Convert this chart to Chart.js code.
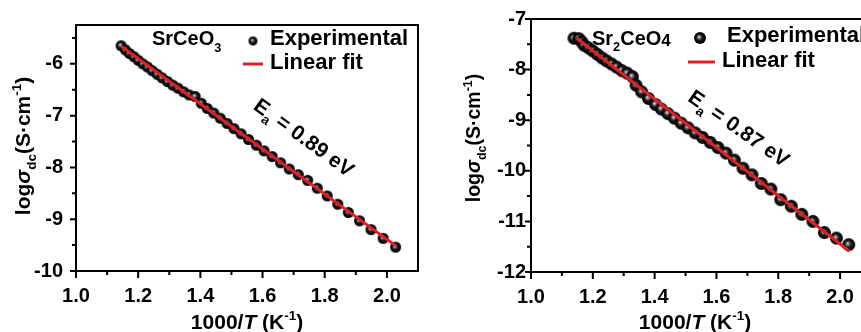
<!DOCTYPE html>
<html><head><meta charset="utf-8">
<script src="https://cdn.jsdelivr.net/npm/chart.js@4"></script>
<style>
html,body{margin:0;padding:0;background:#fff;width:861px;height:332px;overflow:hidden}
#p1{position:absolute;left:0;top:0;width:430px;height:332px}
#p2{position:absolute;left:430px;top:0;width:431px;height:332px;overflow:hidden}
canvas{display:block}
</style></head><body>
<div id="p1"><canvas id="c1" width="430" height="332"></canvas></div>
<div id="p2"><canvas id="c2" width="460" height="332"></canvas></div>
<script>
// ---------- data ----------
const xTicks = [1.0, 1.2, 1.4, 1.6, 1.8, 2.0];
const xMinor = [1.1, 1.3, 1.5, 1.7, 1.9];
const yTicks1 = [-10, -9, -8, -7, -6];
const yMinor1 = [-9.5, -8.5, -7.5, -6.5, -5.5];
const yTicks2 = [-12, -11, -10, -9, -8, -7];
const yMinor2 = [-11.5, -10.5, -9.5, -8.5, -7.5];

// SrCeO3
const x1 = [1.145,1.159,1.172,1.186,1.200,1.215,1.230,1.245,1.261,1.277,1.294,1.311,1.328,1.346,1.364,1.383,1.403,1.422,1.443,1.464,1.486,1.508,1.531,1.555,1.580,1.605,1.631,1.658,1.686,1.715,1.745,1.776,1.808,1.842,1.876,1.912,1.949,1.988,2.028];
const y1 = [-5.65,-5.73,-5.80,-5.86,-5.93,-6.00,-6.06,-6.13,-6.20,-6.27,-6.34,-6.41,-6.47,-6.54,-6.60,-6.63,-6.76,-6.86,-6.95,-7.05,-7.15,-7.25,-7.35,-7.46,-7.57,-7.68,-7.79,-7.91,-8.03,-8.14,-8.25,-8.40,-8.55,-8.71,-8.87,-9.03,-9.20,-9.37,-9.54];
const fitX1 = [1.145, 2.03];
const fitY1 = [-5.66, -9.52];

// Sr2CeO4
const x2 = [1.139,1.155,1.164,1.172,1.186,1.200,1.215,1.230,1.245,1.261,1.277,1.294,1.311,1.328,1.340,1.358,1.380,1.403,1.422,1.443,1.464,1.486,1.508,1.531,1.555,1.580,1.605,1.631,1.658,1.686,1.715,1.745,1.776,1.808,1.842,1.876,1.912,1.949,1.988,2.028];
const y2 = [-7.38,-7.39,-7.45,-7.52,-7.57,-7.63,-7.70,-7.77,-7.83,-7.89,-7.95,-8.02,-8.07,-8.14,-8.31,-8.44,-8.57,-8.69,-8.78,-8.87,-8.96,-9.06,-9.15,-9.25,-9.34,-9.44,-9.54,-9.65,-9.79,-9.95,-10.08,-10.25,-10.36,-10.57,-10.70,-10.86,-11.00,-11.22,-11.33,-11.46];
const fitX2 = [1.148, 2.03];
const fitY2 = [-7.38, -11.59];

const RED = 'rgb(222,32,38)';
const FONT = 'Liberation Sans, Arial, sans-serif';

function sphere(r) {
  const c = document.createElement('canvas');
  const s = Math.ceil(r * 2 + 2);
  c.width = s; c.height = s;
  const g = c.getContext('2d');
  const cx = s / 2, cy = s / 2;
  const grad = g.createRadialGradient(cx - r * 0.2, cy - r * 0.2, 0, cx, cy, r);
  grad.addColorStop(0, '#eeeeee');
  grad.addColorStop(0.2, '#8a8a8a');
  grad.addColorStop(0.5, '#181818');
  grad.addColorStop(1, '#000');
  g.fillStyle = grad;
  g.beginPath(); g.arc(cx, cy, r, 0, Math.PI * 2); g.fill();
  return c;
}

// runs: [text, kind] kind: '' normal, 'i' italic, 'b' subscript, 'p' superscript, 's' small-lowered
function runsLayout(ctx, runs, size) {
  let w = 0;
  const parts = runs.map(([t, k, dyo]) => {
    let fs = size, dy = 0, st = 'bold';
    if (k === 'i') st = 'italic bold';
    if (k === 'b') { fs = size * 0.64; dy = size * (dyo !== undefined ? dyo : 0.3); }
    if (k === 'p') { fs = size * 0.64; dy = -size * 0.42; }
    if (k === 's') { fs = size * 0.85; dy = size * 0.05; }
    ctx.font = st + ' ' + fs + 'px ' + FONT;
    const mw = ctx.measureText(t).width;
    const p = { t, fs, dy, st, x: w };
    w += mw;
    return p;
  });
  return { parts, w };
}
function drawRuns(ctx, runs, size, x, y, opt = {}) {
  ctx.save();
  ctx.translate(x, y);
  if (opt.rot) ctx.rotate(opt.rot);
  const L = runsLayout(ctx, runs, size);
  const x0 = opt.align === 'center' ? -L.w / 2 : 0;
  ctx.fillStyle = '#000';
  ctx.textBaseline = 'alphabetic';
  ctx.textAlign = 'left';
  for (const p of L.parts) {
    ctx.font = p.st + ' ' + p.fs + 'px ' + FONT;
    ctx.fillText(p.t, x0 + p.x, p.dy);
  }
  ctx.restore();
}

function makePanel(id, cfg) {
  const pt = sphere(cfg.r);
  const deco = {
    id: 'deco',
    afterDraw(chart) {
      const ctx = chart.ctx, ca = chart.chartArea;
      const xs = chart.scales.x, ys = chart.scales.y;
      ctx.save();
      ctx.strokeStyle = '#000';
      ctx.lineWidth = 2;
      ctx.strokeRect(ca.left, ca.top, ca.right - ca.left, ca.bottom - ca.top);
      ctx.beginPath();
      xTicks.forEach(v => { const p = xs.getPixelForValue(v); ctx.moveTo(p, ca.bottom); ctx.lineTo(p, ca.bottom + 7); });
      xMinor.forEach(v => { const p = xs.getPixelForValue(v); ctx.moveTo(p, ca.bottom); ctx.lineTo(p, ca.bottom + 4); });
      cfg.yT.forEach(v => { const p = ys.getPixelForValue(v); ctx.moveTo(ca.left, p); ctx.lineTo(ca.left - 6, p); });
      cfg.yM.forEach(v => { const p = ys.getPixelForValue(v); ctx.moveTo(ca.left, p); ctx.lineTo(ca.left - 4, p); });
      ctx.stroke();
      ctx.restore();

      // axis titles
      drawRuns(ctx, [['1000/', ''], ['T', 'i'], [' (K', ''], ['-1', 'p'], [')', '']], 21,
        (ca.left + ca.right) / 2 + cfg.xTitleShift, 329, { align: 'center' });
      drawRuns(ctx, [['log', ''], ['σ', 'i'], ['dc', 'b'], ['(S·cm', ''], ['-1', 'p'], [')', '']], cfg.yTitleSize,
        cfg.yTitleX, cfg.yTitleY, { align: 'center', rot: -Math.PI / 2 });

      // compound name
      drawRuns(ctx, cfg.name, 20, cfg.nameX, 45);

      // legend
      const lg = cfg.legend;
      ctx.drawImage(lg.img, lg.cx - lg.img.width / 2, lg.cy - lg.img.height / 2);
      drawRuns(ctx, [['Experimental', '']], 22, lg.tx1, lg.ty1);
      ctx.save();
      ctx.strokeStyle = RED; ctx.lineWidth = 3;
      ctx.beginPath(); ctx.moveTo(lg.lx0, lg.ly); ctx.lineTo(lg.lx1, lg.ly); ctx.stroke();
      ctx.restore();
      drawRuns(ctx, [['Linear fit', '']], 22, lg.tx2, lg.ty2);

      // activation energy
      drawRuns(ctx, [['E', ''], ['a', 'b', 0.28], [' = ' + cfg.ea + ' eV', '']], 21,
        cfg.eaX, cfg.eaY, { align: 'center', rot: cfg.eaRot });
    }
  };
  cfg.legend.img = sphere(cfg.legend.r);

  new Chart(document.getElementById(id), {
    type: 'scatter',
    data: {
      datasets: [
        {
          label: 'Linear fit',
          data: cfg.fx.map((v, i) => ({ x: v, y: cfg.fy[i] })),
          showLine: true, borderColor: RED, borderWidth: 3, pointRadius: 0, order: 0
        },
        {
          label: 'Experimental',
          data: cfg.px.map((v, i) => ({ x: v, y: cfg.py[i] })),
          pointStyle: pt, pointRadius: cfg.r, order: 1
        }
      ]
    },
    options: {
      responsive: false, animation: false, events: [],
      layout: { padding: { top: 19, right: cfg.padR, left: 0, bottom: 0 } },
      plugins: { legend: { display: false }, tooltip: { enabled: false } },
      scales: {
        x: {
          type: 'linear', min: 1.0, max: 2.1,
          grid: { display: false, drawTicks: false, tickLength: 0 },
          border: { display: false },
          afterBuildTicks: s => { s.ticks = xTicks.map(v => ({ value: v })); },
          afterFit: s => { s.height = cfg.xH; },
          ticks: { color: '#000', padding: 13, maxRotation: 0, autoSkip: false,
            font: { family: FONT, size: 20, weight: 'bold' },
            callback: v => Number(v).toFixed(1) }
        },
        y: {
          type: 'linear', min: cfg.yMin, max: cfg.yMax,
          grid: { display: false, drawTicks: false, tickLength: 0 },
          border: { display: false },
          afterBuildTicks: s => { s.ticks = cfg.yT.map(v => ({ value: v })); },
          afterFit: s => { s.width = cfg.yW; },
          ticks: { color: '#000', padding: cfg.yPad, autoSkip: false,
            font: { family: FONT, size: 20, weight: 'bold' },
            callback: v => String(v) }
        }
      }
    },
    plugins: [deco]
  });
}

makePanel('c1', {
  px: x1, py: y1, fx: fitX1, fy: fitY1, r: 5.5,
  yMin: -10, yMax: -5.25, yT: yTicks1, yM: yMinor1,
  yW: 76, padR: 12, xH: 61, yPad: 13,
  xTitleShift: 0, yTitleSize: 21, yTitleX: 30, yTitleY: 146,
  name: [['SrCeO', ''], ['3', 'b', 0.36]], nameX: 152,
  legend: { r: 4.5, cx: 253, cy: 41, tx1: 270, ty1: 45, lx0: 243, lx1: 263, ly: 64, tx2: 270, ty2: 69 },
  ea: '0.89', eaX: 300, eaY: 143, eaRot: 36 * Math.PI / 180
});

makePanel('c2', {
  px: x2, py: y2, fx: fitX2, fy: fitY2, r: 6.5,
  yMin: -12, yMax: -7, yT: yTicks2, yM: yMinor2,
  yW: 101, padR: 19, xH: 60, yPad: 5,
  xTitleShift: -6, yTitleSize: 19.5, yTitleX: 50, yTitleY: 138,
  name: [['Sr', ''], ['2', 'b', 0.3], ['CeO', ''], ['4', 's']], nameX: 162,
  legend: { r: 6, cx: 270, cy: 38, tx1: 297, ty1: 42, lx0: 258, lx1: 285, ly: 62, tx2: 292, ty2: 67 },
  ea: '0.87', eaX: 305, eaY: 134, eaRot: 35 * Math.PI / 180
});
</script>
</body></html>
